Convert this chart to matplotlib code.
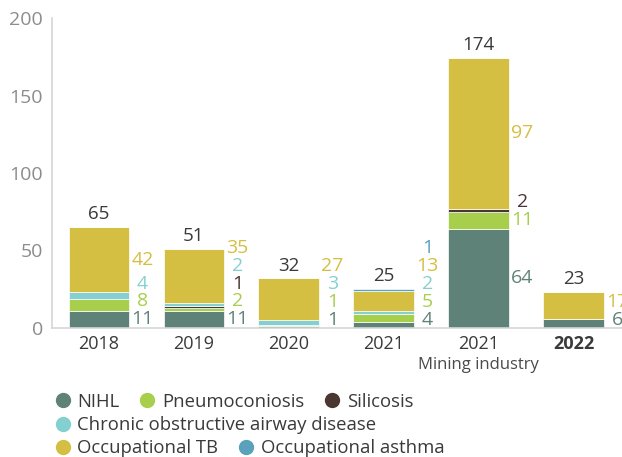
import numpy as np
import matplotlib.pyplot as plt
from matplotlib.lines import Line2D

plt.rcParams['font.family'] = ['Open Sans', 'DejaVu Sans']

# cases per year, stacked by disease
categories = ["2018", "2019", "2020", "2021", "2021", "2022"]
nihl = [11, 11, 1, 4, 64, 6]
pneumoconiosis = [8, 2, 1, 5, 11, 0]
silicosis = [0, 1, 0, 0, 2, 0]
coad = [4, 2, 3, 2, 0, 0]
occupational_tb = [42, 35, 27, 13, 97, 17]
occupational_asthma = [0, 0, 0, 1, 0, 0]
totals = [65, 51, 32, 25, 174, 23]

series = [
    ("NIHL", nihl, "#5e8278"),
    ("Pneumoconiosis", pneumoconiosis, "#a7cf4c"),
    ("Silicosis", silicosis, "#4b3731"),
    ("Chronic obstructive airway disease", coad, "#84d0d0"),
    ("Occupational TB", occupational_tb, "#d5bf42"),
    ("Occupational asthma", occupational_asthma, "#5aa1bd"),
]

text_dark = "#3a3a3a"
fs = 13

fig = plt.figure(figsize=(6.22, 4.57), dpi=100)
ax = fig.add_axes([0.0836, 0.2823, 1 - 0.0836, 0.9606 - 0.2823])

x = np.arange(len(categories))
width = 0.64
bottom = np.zeros(len(categories))
label_pos = [[] for _ in categories]
for name, vals, color in series:
    vals = np.array(vals, dtype=float)
    ax.bar(x, vals, width, bottom=bottom, color=color,
           edgecolor="white", linewidth=0.5)
    for i, v in enumerate(vals):
        if v > 0:
            label_pos[i].append((bottom[i] + v / 2, int(v), color))
    bottom += vals

# value labels beside each bar, nudged upward so they don't overlap
gap = 11.6
for i, labels in enumerate(label_pos):
    prev = None
    for centre, v, color in labels:
        y = max(centre, 5)
        if prev is not None:
            y = max(y, prev + gap)
        prev = y
        ax.text(x[i] + 0.46, y, str(v), ha="center", va="center",
                color=color, fontsize=14)

for i, t in enumerate(totals):
    ax.text(x[i], t + 2.5, str(t), ha="center", va="bottom",
            color=text_dark, fontsize=fs + 0.5)

ax.set_xlim(-0.495, 5.51)
ax.set_ylim(0, 200)
ax.set_yticks([0, 50, 100, 150, 200])
ax.set_xticks(x, categories)
ax.get_xticklabels()[-1].set_fontweight("bold")
ax.tick_params(axis="x", length=0, pad=5, labelsize=fs, labelcolor=text_dark)
ax.tick_params(axis="y", length=0, pad=6.5, labelsize=fs + 1, labelcolor="#8c8c8c")
ax.text(4, -0.119, "Mining industry", transform=ax.get_xaxis_transform(),
        ha="center", va="center", fontsize=12, color="#4a4a4a")

for side in ["top", "right"]:
    ax.spines[side].set_visible(False)
for side in ["left", "bottom"]:
    ax.spines[side].set_color("#d6d6d6")
    ax.spines[side].set_linewidth(1.2)

# legend in three rows
handles = {name: Line2D([], [], marker="o", linestyle="none", markersize=10,
                        markerfacecolor=color, markeredgecolor=color)
           for name, _, color in series}
rows = [
    (["NIHL", "Pneumoconiosis", "Silicosis"], 401.7),
    (["Chronic obstructive airway disease"], 425),
    (["Occupational TB", "Occupational asthma"], 448),
]
for names, ypix in rows:
    leg = fig.legend([handles[n] for n in names], names, loc="center left",
                     bbox_to_anchor=(0.0857, 1 - ypix / 457), ncol=len(names),
                     frameon=False, fontsize=fs + 0.3, handlelength=1,
                     handletextpad=0.3, columnspacing=1.0, borderpad=0,
                     borderaxespad=0)
    for t in leg.get_texts():
        t.set_color(text_dark)

fig.savefig("out.png", dpi=100)
